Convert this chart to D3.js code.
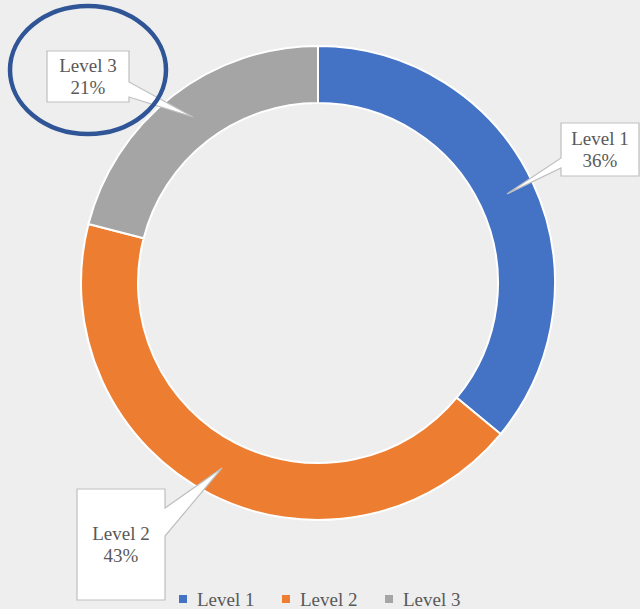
<!DOCTYPE html>
<html>
<head>
<meta charset="utf-8">
<script src="https://cdn.jsdelivr.net/npm/d3@7"></script>
<style>
  body { margin: 0; background: #eeeeee; }
  svg { display: block; }
</style>
</head>
<body>
<div id="visual"></div>
<script>
const categories = ['Level 1', 'Level 2', 'Level 3'];
const values = [36, 43, 21];
const colors = ['#4472c4', '#ed7d31', '#a5a5a5'];

const width = 640;
const height = 609;
const cx = 318;
const cy = 283;
const outerR = 237;
const innerR = 180;
const fontStack = '"Liberation Serif", "DejaVu Serif", serif';
const textColor = '#595959';

const data = categories.map((c, i) => ({ key: c, value: values[i] }));
const total = d3.sum(values);

const svg = d3.select('#visual').append('svg')
  .attr('width', width)
  .attr('height', height);

svg.append('rect')
  .attr('width', width)
  .attr('height', height)
  .attr('fill', '#eeeeee');

const color = d3.scaleOrdinal(categories, colors);

const arc = d3.arc()
  .outerRadius(outerR)
  .innerRadius(innerR);

const pie = d3.pie()
  .sort(null)
  .value(d => d.value);

const g = svg.append('g')
  .attr('transform', `translate(${cx},${cy})`);

g.selectAll('.arc')
  .data(pie(data))
  .enter().append('path')
  .attr('class', 'arc')
  .attr('d', arc)
  .attr('fill', d => color(d.data.key))
  .attr('stroke', '#ffffff')
  .attr('stroke-width', 2);

// callout boxes: box rectangle, which side the wedge sits on, and where it points
const callouts = [
  { key: 'Level 1', box: [561, 123, 639, 176], side: 'left', base: [158, 168], tip: [507, 194] },
  { key: 'Level 2', box: [77, 489, 165, 600], side: 'right', base: [508, 536], tip: [222, 468] },
  { key: 'Level 3', box: [47, 51, 129, 102], side: 'right', base: [82, 97], tip: [193, 117] },
];

function calloutPath(c) {
  const [x0, y0, x1, y1] = c.box;
  const [b0, b1] = c.base;
  const [tx, ty] = c.tip;
  if (c.side === 'left') {
    return `M${x0},${y0}L${x1},${y0}L${x1},${y1}L${x0},${y1}L${x0},${b1}L${tx},${ty}L${x0},${b0}Z`;
  }
  return `M${x0},${y0}L${x1},${y0}L${x1},${b0}L${tx},${ty}L${x1},${b1}L${x1},${y1}L${x0},${y1}Z`;
}

const co = svg.selectAll('.callout')
  .data(callouts)
  .enter().append('g')
  .attr('class', 'callout');

co.append('path')
  .attr('d', calloutPath)
  .attr('fill', '#ffffff')
  .attr('stroke', '#bfbfbf')
  .attr('stroke-width', 1.2);

co.each(function (c) {
  const d = data.find(x => x.key === c.key);
  const [x0, y0, x1, y1] = c.box;
  const mx = (x0 + x1) / 2;
  const my = (y0 + y1) / 2;
  const t = d3.select(this).append('text')
    .attr('text-anchor', 'middle')
    .attr('font-family', fontStack)
    .attr('font-size', 19)
    .attr('fill', textColor);
  t.append('tspan').attr('x', mx).attr('y', my - 5).text(d.key);
  t.append('tspan').attr('x', mx).attr('y', my + 17)
    .text(`${Math.round(d.value / total * 100)}%`);
});

// highlight ring around the Level 3 label
svg.append('ellipse')
  .attr('cx', 88)
  .attr('cy', 70)
  .attr('rx', 78)
  .attr('ry', 64)
  .attr('fill', 'none')
  .attr('stroke', '#2f5597')
  .attr('stroke-width', 4.5);

// legend
const legendX = [179, 282, 385];
const legend = svg.selectAll('.legend')
  .data(categories)
  .enter().append('g')
  .attr('class', 'legend')
  .attr('transform', (d, i) => `translate(${legendX[i]},599)`);

legend.append('rect')
  .attr('x', 0)
  .attr('y', -4)
  .attr('width', 8)
  .attr('height', 8)
  .attr('fill', d => color(d));

legend.append('text')
  .attr('x', 18)
  .attr('y', 7)
  .attr('font-family', fontStack)
  .attr('font-size', 19)
  .attr('fill', textColor)
  .text(d => d);
</script>
</body>
</html>
